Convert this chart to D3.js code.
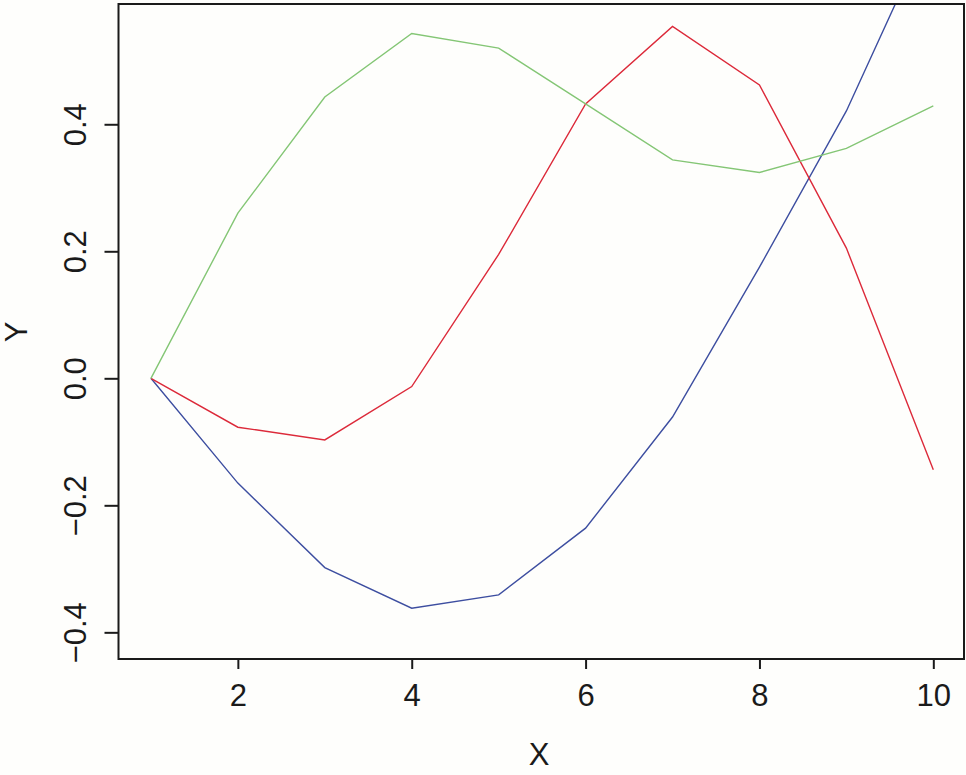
<!DOCTYPE html>
<html>
<head>
<meta charset="utf-8">
<script src="https://cdn.jsdelivr.net/npm/d3@7"></script>
<style>
  body { margin: 0; background: #fefefc; }
  svg { display: block; }
  .axis text { font-family: "Liberation Sans", Arial, sans-serif; font-size: 31px; fill: #1a1a1a; }
  .axis path, .axis line { stroke: #1a1a1a; stroke-width: 2px; }
  .lab { font-family: "Liberation Sans", Arial, sans-serif; font-size: 31px; fill: #1a1a1a; }
</style>
</head>
<body>
<svg></svg>
<script>
// data
var xs = [1, 2, 3, 4, 5, 6, 7, 8, 9, 10]
var redY = [0, -0.077, -0.097, -0.013, 0.195, 0.432, 0.554, 0.462, 0.205, -0.144]
var greenY = [0, 0.26, 0.443, 0.543, 0.52, 0.432, 0.344, 0.324, 0.362, 0.429]
var blueY = [0, -0.165, -0.298, -0.362, -0.341, -0.236, -0.061, 0.175, 0.421, 0.72]
var xTicks = [2, 4, 6, 8, 10]
var yTicks = [-0.4, -0.2, 0, 0.2, 0.4]

var width = 966, height = 775
var box = {left: 118.5, right: 964, top: 4, bottom: 659}

var svg = d3.select("svg").attr("width", width).attr("height", height)

var x = d3.scaleLinear().domain([0.627, 10.353]).range([box.left, box.right])
var y = d3.scaleLinear().domain([-0.442, 0.5894]).range([box.bottom, box.top])

svg.append("clipPath").attr("id", "clip")
  .append("rect")
  .attr("x", box.left).attr("y", box.top)
  .attr("width", box.right - box.left).attr("height", box.bottom - box.top)

var line = d3.line()
  .x(function(d, i){ return x(xs[i]) })
  .y(function(d){ return y(d) })

var series = [
  {vals: blueY, color: "#3d4ea0"},
  {vals: redY, color: "#dc2a3a"},
  {vals: greenY, color: "#84c675"}
]

svg.append("g").attr("clip-path", "url(#clip)")
  .selectAll("path")
  .data(series)
  .enter()
  .append("path")
  .attr("d", function(d){ return line(d.vals) })
  .attr("fill", "none")
  .attr("stroke", function(d){ return d.color })
  .attr("stroke-width", 1.4)

// box
svg.append("rect")
  .attr("x", box.left).attr("y", box.top)
  .attr("width", box.right - box.left).attr("height", box.bottom - box.top)
  .attr("fill", "none").attr("stroke", "#1a1a1a").attr("stroke-width", 2)

var xAxis = svg.append("g").attr("class", "axis")
  .attr("transform", "translate(0," + box.bottom + ")")
  .call(d3.axisBottom(x).tickValues(xTicks).tickSize(10).tickPadding(15).tickFormat(d3.format("d")))
xAxis.select(".domain").remove()

var yAxis = svg.append("g").attr("class", "axis")
  .attr("transform", "translate(" + box.left + ",0)")
  .call(d3.axisLeft(y).tickValues(yTicks).tickSize(14).tickFormat(function(d){
    return d3.format(".1f")(d).replace("-", "\u2212")
  }))
yAxis.select(".domain").remove()
// tick groups are already moved to y(d), so only shift left and turn
yAxis.selectAll("text")
  .attr("x", null).attr("y", null)
  .attr("transform", "translate(-43,0) rotate(-90)")
  .attr("dy", "0.35em")
  .style("text-anchor", "middle")

svg.append("text").attr("class", "lab")
  .attr("x", 539).attr("y", 765)
  .attr("text-anchor", "middle")
  .text("X")

svg.append("text").attr("class", "lab")
  .attr("transform", "translate(27,332) rotate(-90)")
  .attr("text-anchor", "middle")
  .text("Y")
</script>
</body>
</html>
